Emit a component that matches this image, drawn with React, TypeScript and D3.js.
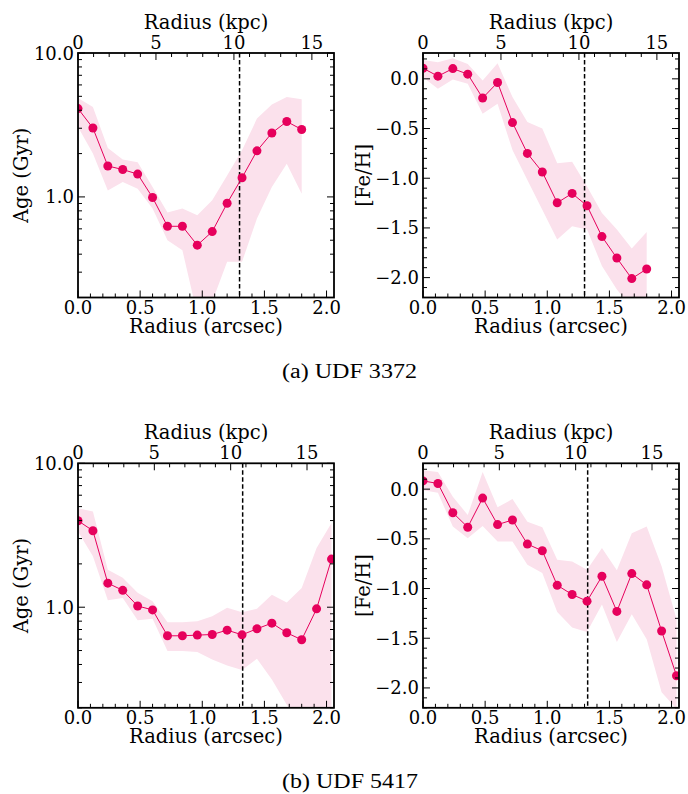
import * as d3 from "d3";

// radius bins (arcsec)
const radiusA = [0, 0.12, 0.24, 0.36, 0.48, 0.6, 0.72, 0.84, 0.96, 1.08, 1.2, 1.32, 1.44, 1.56, 1.68, 1.8];
const radiusB = [0, 0.12, 0.24, 0.36, 0.48, 0.6, 0.72, 0.84, 0.96, 1.08, 1.2, 1.32, 1.44, 1.56, 1.68, 1.8, 1.92, 2.04];

// UDF 3372
const ageA = [4.11, 3.01, 1.64, 1.55, 1.44, 0.99, 0.625, 0.625, 0.462, 0.574, 0.904, 1.36, 2.09, 2.78, 3.34, 2.94];
const ageAHi = [4.87, 4.22, 2.19, 1.82, 1.74, 1.17, 0.778, 0.83, 0.746, 0.948, 1.41, 2.11, 3.5, 4.38, 4.95, 4.77];
const ageALo = [3.06, 2.0, 1.11, 1.27, 1.14, 0.83, 0.5, 0.426, 0.152, 0.187, 0.354, 0.354, 0.707, 1.17, 1.7, 1.05];
const fehA = [0.107, 0.027, 0.103, 0.047, -0.193, -0.037, -0.44, -0.75, -0.937, -1.247, -1.153, -1.277, -1.587, -1.803, -2.01, -1.913];
const fehAHi = [0.19, 0.167, 0.207, 0.15, -0.017, 0.157, -0.183, -0.433, -0.5, -0.85, -0.833, -1.083, -1.35, -1.517, -1.707, -1.54];
const fehALo = [0.017, -0.1, -0.007, -0.05, -0.35, -0.25, -0.717, -1.017, -1.317, -1.617, -1.483, -1.517, -1.883, -2.12, -2.3, -2.35];

// UDF 5417
const ageB = [3.99, 3.4, 1.47, 1.31, 1.02, 0.958, 0.633, 0.633, 0.64, 0.646, 0.693, 0.643, 0.708, 0.775, 0.664, 0.594, 0.974, 2.16];
const ageBHi = [4.88, 4.62, 1.82, 1.6, 1.26, 1.1, 0.787, 0.787, 0.8, 0.866, 0.99, 0.923, 0.974, 1.22, 1.08, 1.36, 2.58, 3.84];
const ageBLo = [3.36, 2.26, 1.12, 1.16, 0.813, 0.83, 0.496, 0.496, 0.488, 0.434, 0.394, 0.366, 0.438, 0.315, 0.21, 0.15, 0.12, 0.1];
const fehB = [0.083, 0.057, -0.237, -0.383, -0.09, -0.357, -0.31, -0.553, -0.62, -0.967, -1.06, -1.127, -0.877, -1.23, -0.85, -0.963, -1.427, -1.877];
const fehBHi = [0.19, 0.173, -0.077, -0.26, 0.173, -0.183, -0.1, -0.327, -0.383, -0.71, -0.727, -0.81, -0.593, -0.817, -0.443, -0.377, -0.777, -1.31];
const fehBLo = [-0.01, -0.037, -0.377, -0.493, -0.37, -0.527, -0.527, -0.76, -0.843, -1.237, -1.393, -1.437, -1.16, -1.537, -1.26, -1.51, -2.043, -2.21];

// effective radius line (arcsec) and kpc per arcsec
const reA = 1.3;
const reB = 1.325;
const kpcPerArcsecA = 7.97;
const kpcPerArcsecB = 8.14;

const xTicks = [0, 0.5, 1, 1.5, 2];
const kpcTicks = [0, 5, 10, 15];
const ageTicks = [1, 10];
const fehTicks = [0, -0.5, -1, -1.5, -2];

const COLOR = "#e6005c";
const BAND = "#fbe1ec";
const FONT = "DejaVu Serif";

type PanelProps = {
  id: string;
  left: number;
  top: number;
  kind: "age" | "feh";
  radius: number[];
  val: number[];
  lo: number[];
  hi: number[];
  re: number;
  kpc: number;
};

function Panel({ id, left, top, kind, radius, val, lo, hi, re, kpc }: PanelProps) {
  const w = 256;
  const h = 244.5;
  const right = left + w;
  const bottom = top + h;
  const xMax = 2.06;
  const x = d3.scaleLinear().domain([0, xMax]).range([left, right]);
  const xk = d3.scaleLinear().domain([0, xMax * kpc]).range([left, right]);
  const y: any =
    kind === "age"
      ? d3.scaleLog().domain([0.2, 10]).range([bottom, top])
      : d3.scaleLinear().domain([-2.2, 0.26]).range([bottom, top]);

  const pts = radius.map((r, i) => ({ r, v: val[i], lo: lo[i], hi: hi[i] }));
  const area = d3
    .area<any>()
    .x((d) => x(d.r))
    .y0((d) => y(d.lo))
    .y1((d) => y(d.hi));
  const line = d3
    .line<any>()
    .x((d) => x(d.r))
    .y((d) => y(d.v));

  const fmt = d3.format(".1f");
  const xMinor = d3.range(0, xMax, 0.1).filter((t) => Math.abs(t * 2 - Math.round(t * 2)) > 1e-6);
  const kMinor = d3.range(1, xMax * kpc, 1).filter((t) => t % 5 !== 0);
  const yMinor =
    kind === "age"
      ? [0.2, 0.3, 0.4, 0.5, 0.6, 0.7, 0.8, 0.9, 2, 3, 4, 5, 6, 7, 8, 9]
      : d3.range(-2.2, 0.26, 0.1).filter((t) => Math.abs(t * 2 - Math.round(t * 2)) > 1e-6);
  const yMajor = kind === "age" ? ageTicks : fehTicks;
  const MJ = 7;
  const MN = 4;

  return (
    <g>
      <defs>
        <clipPath id={id}>
          <rect x={left} y={top} width={w} height={h} />
        </clipPath>
      </defs>
      <g clipPath={`url(#${id})`}>
        <path d={area(pts) ?? ""} fill={BAND} stroke="none" />
        <line x1={x(re)} x2={x(re)} y1={top} y2={bottom} stroke="#000" strokeWidth={1.5} strokeDasharray="4.5,2.5" />
        <path d={line(pts) ?? ""} fill="none" stroke={COLOR} strokeWidth={1} />
        {pts.map((d, i) => (
          <circle key={i} cx={x(d.r)} cy={y(d.v)} r={4.5} fill={COLOR} />
        ))}
      </g>
      <g stroke="#000" strokeWidth={1}>
        {xTicks.map((t) => (
          <line key={"xb" + t} x1={x(t)} x2={x(t)} y1={bottom} y2={bottom - MJ} />
        ))}
        {xMinor.map((t) => (
          <line key={"xm" + t} x1={x(t)} x2={x(t)} y1={bottom} y2={bottom - MN} />
        ))}
        {kpcTicks.map((t) => (
          <line key={"kt" + t} x1={xk(t)} x2={xk(t)} y1={top} y2={top + MJ} />
        ))}
        {kMinor.map((t) => (
          <line key={"km" + t} x1={xk(t)} x2={xk(t)} y1={top} y2={top + MN} />
        ))}
        {yMajor.map((t) => (
          <g key={"ym" + t}>
            <line x1={left} x2={left + MJ} y1={y(t)} y2={y(t)} />
            <line x1={right} x2={right - MJ} y1={y(t)} y2={y(t)} />
          </g>
        ))}
        {yMinor.map((t) => (
          <g key={"yn" + t}>
            <line x1={left} x2={left + MN} y1={y(t)} y2={y(t)} />
            <line x1={right} x2={right - MN} y1={y(t)} y2={y(t)} />
          </g>
        ))}
      </g>
      <rect x={left} y={top} width={w} height={h} fill="none" stroke="#000" strokeWidth={1.8} />
      <g fontFamily={FONT} fontSize={18} fill="#000">
        {xTicks.map((t) => (
          <text key={"xl" + t} x={x(t)} y={bottom + 16.5} textAnchor="middle">
            {fmt(t)}
          </text>
        ))}
        {kpcTicks.map((t) => (
          <text key={"kl" + t} x={xk(t)} y={top - 4} textAnchor="middle">
            {t}
          </text>
        ))}
        {yMajor.map((t) => (
          <text key={"yl" + t} x={left - 4} y={y(t)} textAnchor="end" dominantBaseline="central">
            {fmt(t)}
          </text>
        ))}
      </g>
      <g fontFamily={FONT} fontSize={19.5} fill="#000">
        <text x={(left + right) / 2} y={bottom + 35.5} textAnchor="middle">
          Radius (arcsec)
        </text>
        <text x={(left + right) / 2} y={top - 24} textAnchor="middle">
          Radius (kpc)
        </text>
        <text
          transform={`translate(${kind === "age" ? left - 50 : left - 53},${(top + bottom) / 2}) rotate(-90)`}
          textAnchor="middle"
        >
          {kind === "age" ? "Age (Gyr)" : "[Fe/H]"}
        </text>
      </g>
    </g>
  );
}

export default function App() {
  return (
    <svg
      width={688}
      height={794}
      viewBox="0 0 688 794"
      style={{ position: "absolute", left: 0, top: 0, background: "#fff" }}
    >
      <Panel id="ca1" left={78} top={53} kind="age" radius={radiusA} val={ageA} lo={ageALo} hi={ageAHi} re={reA} kpc={kpcPerArcsecA} />
      <Panel id="ca2" left={423} top={53} kind="feh" radius={radiusA} val={fehA} lo={fehALo} hi={fehAHi} re={reA} kpc={kpcPerArcsecA} />
      <Panel id="cb1" left={78} top={463.3} kind="age" radius={radiusB} val={ageB} lo={ageBLo} hi={ageBHi} re={reB} kpc={kpcPerArcsecB} />
      <Panel id="cb2" left={423} top={463.3} kind="feh" radius={radiusB} val={fehB} lo={fehBLo} hi={fehBHi} re={reB} kpc={kpcPerArcsecB} />
      <g fontFamily="Liberation Serif" fontSize={20} fill="#000">
        <text x={282} y={378} textLength={135} lengthAdjust="spacingAndGlyphs">(a)  UDF 3372</text>
        <text x={282} y={788} textLength={136} lengthAdjust="spacingAndGlyphs">(b)  UDF 5417</text>
      </g>
    </svg>
  );
}
